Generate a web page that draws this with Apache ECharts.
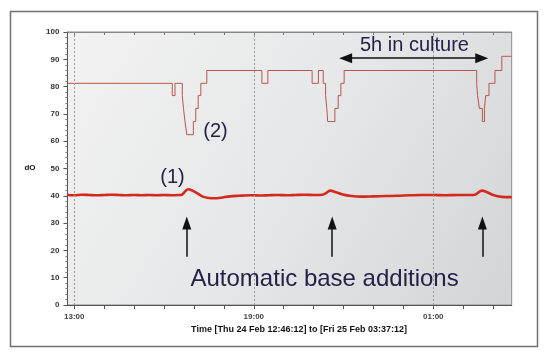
<!DOCTYPE html>
<html>
<head>
<meta charset="utf-8">
<script src="https://cdn.jsdelivr.net/npm/echarts@6/dist/echarts.min.js"></script>
<style>
html,body{margin:0;padding:0;background:#fff;}
#c{width:550px;height:360px;}
</style>
</head>
<body>
<div id="c"></div>
<script>
// ---- data (time in hours since Thu 00:00; 24+ = Fri) ----
const timeStart = 12.77;   // 12:46:12
const timeEnd = 27.62;     // 03:37:12 next day
const hourTicks = [13,14,15,16,17,18,19,20,21,22,23,24,25,26,27];
const labelTicks = [13,19,25];
const gridLineTimes = [13,19,25];

// dO measured (thick red line)
const doTimes = [12.77,13.0,13.25,13.5,13.75,14.0,14.25,14.5,14.75,15.0,15.25,15.5,15.75,16.0,16.25,16.5,16.6,16.7,16.81,16.95,17.1,17.3,17.5,17.7,17.9,18.2,18.5,18.9,19.2,19.5,19.8,20.1,20.4,20.7,21.0,21.3,21.4,21.55,21.7,21.94,22.27,22.6,23.0,23.4,23.8,24.2,24.6,25.0,25.4,25.8,26.2,26.39,26.5,26.62,26.8,27.0,27.28,27.62];
const doValues = [40.3,40.2,40.4,40.3,40.2,40.3,40.4,40.3,40.2,40.3,40.2,40.3,40.2,40.3,40.2,40.3,40.4,41.6,42.4,41.9,41.0,39.7,39.2,39.1,39.3,39.8,40.0,40.2,40.1,40.2,40.3,40.2,40.3,40.4,40.3,40.4,40.9,41.9,41.5,40.6,39.9,39.7,39.8,39.9,40.0,40.2,40.3,40.3,40.2,40.3,40.3,40.4,41.2,41.9,41.3,40.3,39.6,39.5];

// stepped trace (thin line) : time at which the value starts
const stepTimes = [12.77,16.275,16.366,16.61,16.65,16.70,16.76,16.98,17.06,17.14,17.23,17.43,19.27,19.47,20.95,21.16,21.32,21.40,21.44,21.47,21.71,21.82,21.91,22.02,26.45,26.48,26.54,26.64,26.71,26.75,26.86,27.06,27.29,27.62];
const stepValues = [81.2,76.7,81.2,76.7,72.0,67.2,62.4,67.2,72.0,76.7,81.2,85.9,81.2,85.9,81.2,85.9,81.2,76.7,72.0,67.2,72.0,76.7,81.2,85.9,81.2,76.7,72.0,67.2,72.0,76.7,81.2,85.9,91.1,91.1];

const yTicks = [0,10,20,30,40,50,60,70,80,90,100];

// annotation anchors
const baseAdditionTimes = [16.76,21.62,26.64];
const arrowFrom = 17.7, arrowTo = 30.0;
const cultureSpan = [22.07,26.62], cultureLevel = 90.4;

const fmtHour = v => String(Math.round(v) % 24).padStart(2,'0') + ':00';
const FONT = 'Liberation Sans, Arial, Helvetica, sans-serif';
const TXT = '#23234a';

const chart = echarts.init(document.getElementById('c'), null, {renderer:'canvas'});
chart.setOption({
  animation:false,
  backgroundColor:'#ffffff',
  grid:{left:67.4,right:38.3,top:32,bottom:55,show:true,borderColor:'#8a8a8a',borderWidth:1,
    backgroundColor:{type:'linear',x:0,y:0,x2:1,y2:1,colorStops:[{offset:0,color:'#f2f2f2'},{offset:0.5,color:'#e6e7e8'},{offset:1,color:'#d2d4d6'}]}},
  xAxis:[{
    type:'value',min:timeStart,max:timeEnd,position:'bottom',
    axisLine:{show:true,onZero:false,lineStyle:{color:'#555',width:1}},
    axisTick:{show:true,customValues:hourTicks,length:4,lineStyle:{color:'#555'}},
    axisLabel:{customValues:labelTicks,formatter:fmtHour,fontSize:8,fontWeight:'bold',color:'#444',margin:8,fontFamily:FONT},
    splitLine:{show:false}
  },{
    type:'value',min:timeStart,max:timeEnd,position:'top',
    axisLine:{show:true,onZero:false,lineStyle:{color:'#888',width:1}},
    axisTick:{show:true,inside:true,customValues:hourTicks,length:3,lineStyle:{color:'#777'}},
    axisLabel:{show:false},splitLine:{show:false}
  }],
  yAxis:{
    type:'value',min:0,max:100,interval:10,
    axisLine:{show:true,lineStyle:{color:'#555'}},
    axisTick:{show:true,length:4,lineStyle:{color:'#555'}},
    minorTick:{show:true,splitNumber:5,length:2,lineStyle:{color:'#888'}},
    axisLabel:{fontSize:8,fontWeight:'bold',color:'#333',margin:8,fontFamily:FONT,customValues:yTicks},
    splitLine:{show:false}
  },
  series:[
    {type:'line',name:'grid',data:[],silent:true,
      markLine:{silent:true,symbol:['none','none'],label:{show:false},
        lineStyle:{color:'#9a9a9a',type:[2,2],width:1},
        data:gridLineTimes.map(t=>({xAxis:t}))}},
    {type:'line',name:'setpoint',step:'end',showSymbol:false,
      data:stepTimes.map((t,i)=>[t,stepValues[i]]),
      lineStyle:{color:'#b9564c',width:1},z:3},
    {type:'line',name:'dO',smooth:0.3,showSymbol:false,
      data:doTimes.map((t,i)=>[t,doValues[i]]),
      lineStyle:{color:'#d4291d',width:2.6},z:4},
    {type:'line',name:'arrows',data:[],silent:true,
      markLine:{silent:true,symbol:['none','triangle'],symbolSize:[9,13],label:{show:false},
        lineStyle:{color:'#111',type:'solid',width:1.5},
        data:baseAdditionTimes.map(t=>[{coord:[t,arrowFrom]},{coord:[t,arrowTo]}])}},
    {type:'line',name:'span',data:[],silent:true,
      markLine:{silent:true,symbol:['triangle','triangle'],symbolSize:[10,13],label:{show:false},
        lineStyle:{color:'#111',type:'solid',width:1.5},
        data:[[{coord:[cultureSpan[0],cultureLevel]},{coord:[cultureSpan[1],cultureLevel]}]]}}
  ],
  graphic:[
    {type:'rect',shape:{x:10.5,y:11.5,width:527,height:335},style:{fill:'none',stroke:'#707070',lineWidth:1.5},z:-1},
    {type:'text',x:30,y:168,style:{text:'dO',font:'bold 8px '+FONT,fill:'#111',align:'center',verticalAlign:'middle'}},
    {type:'text',x:299,y:330,style:{text:'Time [Thu 24 Feb 12:46:12] to [Fri 25 Feb 03:37:12]',font:'bold 9px '+FONT,fill:'#111',align:'center',verticalAlign:'middle'}},
    {type:'text',x:360,y:45,style:{text:'5h in culture',font:'20px '+FONT,fill:TXT,align:'left',verticalAlign:'middle'},z:10},
    {type:'text',x:215.5,y:131,style:{text:'(2)',font:'20px '+FONT,fill:TXT,align:'center',verticalAlign:'middle'},z:10},
    {type:'text',x:172.5,y:177,style:{text:'(1)',font:'20px '+FONT,fill:TXT,align:'center',verticalAlign:'middle'},z:10},
    {type:'text',x:190.5,y:279,style:{text:'Automatic base additions',font:'24px '+FONT,fill:TXT,align:'left',verticalAlign:'middle'},z:10}
  ]
});
</script>
</body>
</html>
